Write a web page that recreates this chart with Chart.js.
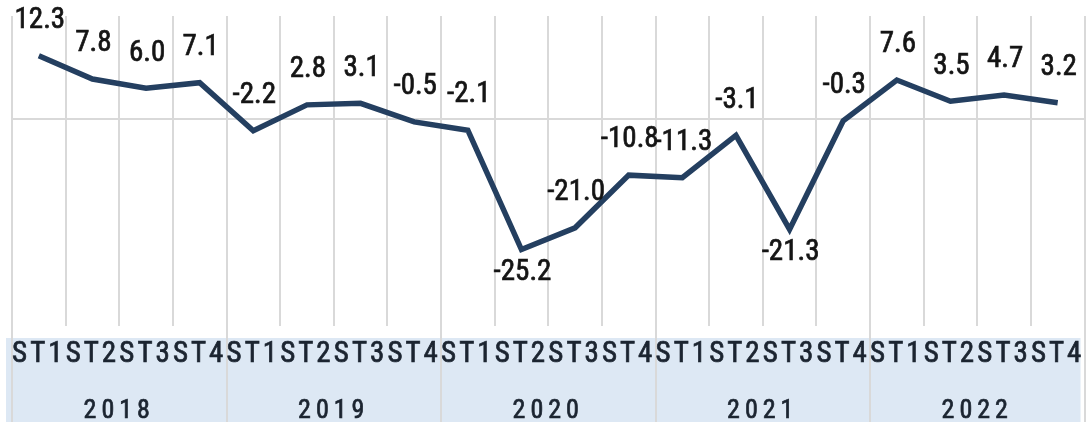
<!DOCTYPE html>
<html>
<head>
<meta charset="utf-8">
<script src="https://cdn.jsdelivr.net/npm/chart.js@4.4.1/dist/chart.umd.min.js"></script>
<style>
  html, body { margin: 0; padding: 0; background: #fff; }
  canvas { display: block; }
</style>
</head>
<body>
<canvas id="growthChart" width="1091" height="423"></canvas>
<script>
// ── DATA ─────────────────────────────────────────────────────
const years = ['2018', '2019', '2020', '2021', '2022'];
const quarterNames = ['ST1', 'ST2', 'ST3', 'ST4'];
const quarters = years.flatMap(() => quarterNames);
const growth = [12.3, 7.8, 6.0, 7.1, -2.2, 2.8, 3.1, -0.5, -2.1, -25.2,
                -21.0, -10.8, -11.3, -3.1, -21.3, -0.3, 7.6, 3.5, 4.7, 3.2];
const yTicks = [-40, -20, 0, 20];

const NARROW = "'Roboto Condensed', 'DejaVu Sans Condensed', sans-serif";
const LINE_COLOR = '#243f60';
const GRID_COLOR = '#d9d9d9';
const TEXT_COLOR = '#1b2430';

// ── BAND UNDER THE AXIS + YEAR SEPARATORS ───────────────────
const bandPlugin = {
  id: 'band',
  beforeDraw(chart) {
    const { ctx, chartArea } = chart;
    const xs = chart.scales.x;
    ctx.save();
    ctx.fillStyle = '#dde8f4';
    ctx.fillRect(xs.left - 6, chartArea.bottom + 12, xs.width + 2, chart.height - chartArea.bottom - 13);
    ctx.strokeStyle = GRID_COLOR;
    ctx.lineWidth = 2;
    for (let i = 0; i <= quarters.length; i += quarterNames.length) {
      const x = Math.round(xs.getPixelForValue(i - 0.5));
      ctx.beginPath();
      ctx.moveTo(x, chartArea.top);
      ctx.lineTo(x, chart.height - 1);
      ctx.stroke();
    }
    ctx.restore();
    // quarter labels are drawn after this hook and keep the spacing
    ctx.letterSpacing = '3px';
  }
};

// ── VALUE LABELS ────────────────────────────────────────────
const valueLabels = {
  id: 'valueLabels',
  afterDatasetsDraw(chart) {
    const { ctx } = chart;
    const meta = chart.getDatasetMeta(0);
    ctx.save();
    ctx.letterSpacing = '0px';
    ctx.font = '29px ' + NARROW;
    ctx.fillStyle = '#151515';
    ctx.strokeStyle = '#151515';
    ctx.lineWidth = 0.7;
    ctx.textAlign = 'center';
    ctx.textBaseline = 'middle';
    meta.data.forEach((pt, i) => {
      const v = growth[i];
      const prev = growth[i - 1], next = growth[i + 1];
      const isDip = v < -15 && (prev === undefined || v < prev) && (next === undefined || v < next);
      const y = isDip ? pt.y + 23 : pt.y - 35;
      ctx.fillText(v.toFixed(1), pt.x + 1, y);
      ctx.strokeText(v.toFixed(1), pt.x + 1, y);
    });
    ctx.restore();
    // year row (ticks z: 1) is drawn after the datasets, wider spacing
    ctx.letterSpacing = '5px';
  }
};

new Chart(document.getElementById('growthChart'), {
  type: 'line',
  data: {
    labels: quarters,
    datasets: [{
      data: growth,
      borderColor: LINE_COLOR,
      borderWidth: 5.5,
      pointRadius: 0,
      tension: 0,
      fill: false
    }]
  },
  options: {
    responsive: false,
    devicePixelRatio: 1,
    animation: false,
    layout: { padding: { left: 12, right: 3, top: 16, bottom: 0 } },
    plugins: { legend: { display: false }, tooltip: { enabled: false } },
    scales: {
      x: {
        position: 'bottom',
        offset: true,
        grid: { color: GRID_COLOR, lineWidth: 2, offset: true, drawTicks: false },
        border: { display: false },
        ticks: {
          color: TEXT_COLOR, padding: 11, maxRotation: 0, autoSkip: false,
          textStrokeColor: TEXT_COLOR, textStrokeWidth: 0.7,
          font: { family: NARROW, size: 29 }
        },
        afterFit: s => { s.height = 52; }
      },
      x2: {
        type: 'category',
        position: 'bottom',
        labels: years,
        offset: true,
        grid: { display: false },
        border: { display: false },
        ticks: {
          z: 1,
          color: TEXT_COLOR, padding: 10, maxRotation: 0, autoSkip: false,
          textStrokeColor: TEXT_COLOR, textStrokeWidth: 0.7,
          font: { family: NARROW, size: 26 }
        },
        afterFit: s => { s.height = 45; }
      },
      y: {
        min: -40, max: 20,
        afterBuildTicks: s => { s.ticks = yTicks.map(v => ({ value: v })); },
        grid: {
          drawTicks: false,
          lineWidth: 2,
          color: c => c.tick && c.tick.value === 0 ? GRID_COLOR : 'rgba(0,0,0,0)'
        },
        border: { display: false },
        ticks: { display: false },
        afterFit: s => { s.width = 0; }
      }
    }
  },
  plugins: [bandPlugin, valueLabels]
});
</script>
</body>
</html>
